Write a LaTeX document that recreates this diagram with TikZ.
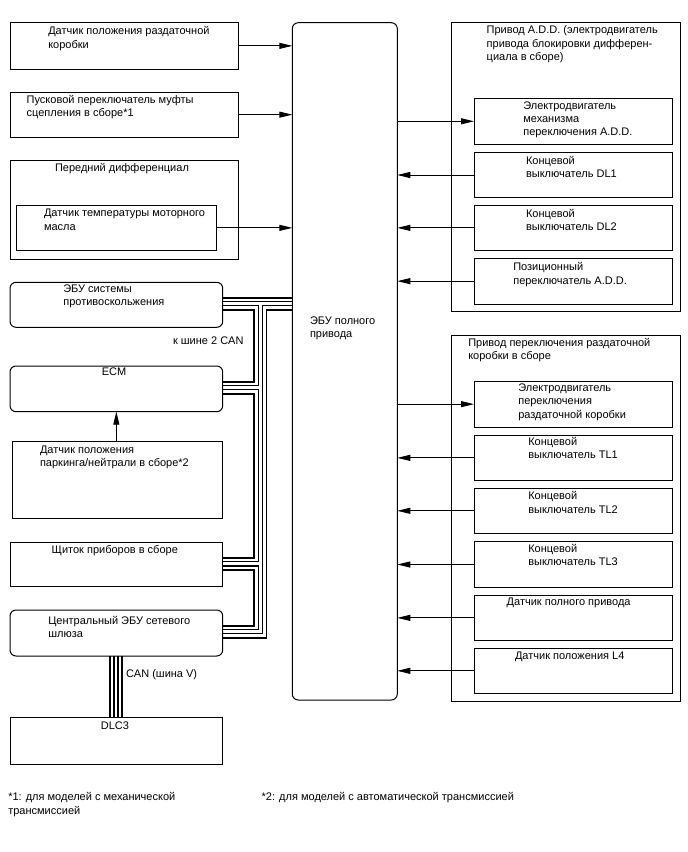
\documentclass[tikz,border=0pt]{standalone}
\usepackage{fontspec}
\setmainfont{Liberation Sans}
\usetikzlibrary{arrows.meta,backgrounds}
\begin{document}
\begin{tikzpicture}[x=1pt,y=-1pt,
  box/.style={draw=black,line width=1pt,inner sep=0pt,outer sep=0pt,anchor=north west},
  rbox/.style={box,rounded corners=6pt},
  txt/.style={inner sep=0pt,outer sep=0pt,align=left,anchor=north west,font=\fontsize{11}{13.3}\selectfont},
  ctxt/.style={txt,anchor=north},
  sig/.style={line width=0.9pt,-{Triangle[length=13pt,width=6pt]}}]
\useasboundingbox (0,0) rectangle (688,852);

% left column
\node[box,minimum width=228.3pt,minimum height=46.3pt] (b1) at (10,22.7) {};
\node[txt] (t1) at (48.3,26.7) {Датчик положения раздаточной\\коробки};
\node[box,minimum width=228.3pt,minimum height=44.7pt] (b2) at (10,92.3) {};
\node[txt] (t2) at (26.7,95) {Пусковой переключатель муфты\\сцепления в сборе*1};
\node[box,minimum width=228.3pt,minimum height=99pt] (fd) at (10,160) {};
\node[txt] (t3) at (55,163) {Передний дифференциал};
\node[box,minimum width=199.3pt,minimum height=45.7pt] (ot) at (16.7,205) {};
\node[txt] (t4) at (44,209.3) {Датчик температуры моторного\\масла};

% ECU
\node[rbox,minimum width=105pt,minimum height=677.3pt] (ecu) at (292.3,22.7) {};
\node[txt] (tecu) at (310,316.7) {ЭБУ полного\\привода};

% A.D.D. group
\node[box,minimum width=229pt,minimum height=289.7pt] (add) at (451,22) {};
\node[txt] (tadd) at (486.7,26) {Привод A.D.D. (электродвигатель\\привода блокировки дифферен-\\циала в сборе)};
\node[box,minimum width=198.3pt,minimum height=46pt] (m1) at (474,98.3) {};
\node[txt] (tm1) at (523.3,101.7) {Электродвигатель\\механизма\\переключения A.D.D.};
\node[box,minimum width=198.3pt,minimum height=45.4pt] (dl1) at (474,152.3) {};
\node[txt] (tdl1) at (526,156) {Концевой\\выключатель DL1};
\node[box,minimum width=198.3pt,minimum height=45.7pt] (dl2) at (474,205) {};
\node[txt] (tdl2) at (526,209.3) {Концевой\\выключатель DL2};
\node[box,minimum width=198.3pt,minimum height=45.7pt] (pos) at (474,258.3) {};
\node[txt] (tpos) at (513.3,262.7) {Позиционный\\переключатель A.D.D.};

% transfer group
\node[box,minimum width=229pt,minimum height=366pt] (tf) at (451,335) {};
\node[txt] (ttf) at (468.3,338.3) {Привод переключения раздаточной\\коробки в сборе};
\node[box,minimum width=198.3pt,minimum height=46.3pt] (m2) at (474,381) {};
\node[txt] (tm2) at (518.3,384) {Электродвигатель\\переключения\\раздаточной коробки};
\node[box,minimum width=198.3pt,minimum height=45.7pt] (tl1) at (474,435) {};
\node[txt] (ttl1) at (528.3,437.3) {Концевой\\выключатель TL1};
\node[box,minimum width=198.3pt,minimum height=45pt] (tl2) at (474,488.3) {};
\node[txt] (ttl2) at (528.3,491.7) {Концевой\\выключатель TL2};
\node[box,minimum width=198.3pt,minimum height=45.6pt] (tl3) at (474,541.7) {};
\node[txt] (ttl3) at (528.3,544) {Концевой\\выключатель TL3};
\node[box,minimum width=198.3pt,minimum height=45.7pt] (fwd) at (474,595) {};
\node[txt] (tfwd) at (506.7,598.3) {Датчик полного привода};
\node[box,minimum width=198.3pt,minimum height=45pt] (l4) at (474,648.3) {};
\node[txt] (tl4t) at (515,651.7) {Датчик положения L4};

% left lower
\node[rbox,minimum width=212.7pt,minimum height=45pt] (anti) at (10,282.3) {};
\node[txt] (tanti) at (63.3,285) {ЭБУ системы\\противоскольжения};
\node[txt] (tcan2) at (173,336.7) {к шине 2 CAN};
\node[rbox,minimum width=212.7pt,minimum height=45.7pt] (ecm) at (10,366) {};
\node[ctxt] (tecm) at (114,368.3) {ECM};
\node[box,minimum width=210.4pt,minimum height=77.3pt] (pn) at (12.3,441) {};
\node[txt] (tpn) at (40,445.7) {Датчик положения\\паркинга/нейтрали в сборе*2};
\node[box,minimum width=212.7pt,minimum height=44pt] (ic) at (10,542) {};
\node[txt] (tic) at (51.7,545) {Щиток приборов в сборе};
\node[rbox,minimum width=212.7pt,minimum height=46pt] (gw) at (10,610) {};
\node[txt] (tgw) at (48.3,616) {Центральный ЭБУ сетевого\\шлюза};
\node[txt] (tcanv) at (126,670) {CAN (шина V)};
\node[box,minimum width=212.7pt,minimum height=47.3pt] (dlc) at (10,717) {};
\node[ctxt] (tdlc) at (115,721.7) {DLC3};

% footnotes
\node[txt] (fn1) at (8.3,792.7) {*1: для моделей с механической\\трансмиссией};
\node[txt] (fn2) at (261.7,792.7) {*2: для моделей с автоматической трансмиссией};

% signal arrows
\draw[sig] (b1.east) -- (b1.east -| ecu.west);
\draw[sig] (b2.east) -- (b2.east -| ecu.west);
\draw[sig] (ot.east) -- (ot.east -| ecu.west);
\draw[sig] (m1.west -| ecu.east) -- (m1.west);
\draw[sig] (dl1.west) -- (dl1.west -| ecu.east);
\draw[sig] (dl2.west) -- (dl2.west -| ecu.east);
\draw[sig] (pos.west) -- (pos.west -| ecu.east);
\draw[sig] (m2.west -| ecu.east) -- (m2.west);
\draw[sig] (tl1.west) -- (tl1.west -| ecu.east);
\draw[sig] (tl2.west) -- (tl2.west -| ecu.east);
\draw[sig] (tl3.west) -- (tl3.west -| ecu.east);
\draw[sig] (fwd.west) -- (fwd.west -| ecu.east);
\draw[sig] (l4.west) -- (l4.west -| ecu.east);
\draw[sig] (pn.north -| ecm.south) -- (ecm.south);

% CAN cables
\coordinate (j1) at (260.3,303.7);
\coordinate (j2) at (260.3,387.7);
\coordinate (j3) at (260.3,563.8);
\coordinate (j4) at (260.3,631.7);
\coordinate (cv) at (116,0);
\begin{scope}[on background layer]
\foreach \lw/\lc in {14/black,10.4/white,5.4/black,2.8/white}{
  \draw[line width=\lw pt,draw=\lc,line join=miter]
    (anti.east |- j1) -- (j1 -| ecu.west)
    (j1) -- (j4) -- (j4 -| gw.east)
    (ecm.east |- j2) -- (j2)
    (ic.east |- j3) -- (j3)
    (gw.south -| cv) -- (dlc.north -| cv);
}
\end{scope}
\end{tikzpicture}
\end{document}
